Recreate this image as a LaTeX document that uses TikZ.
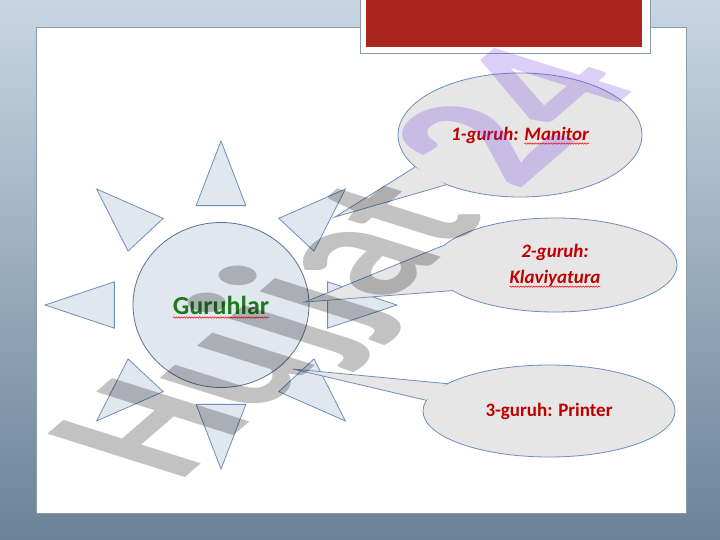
\documentclass[tikz,border=0pt]{standalone}
\usepackage{fontspec}
\setmainfont{Carlito}
\usepackage{tikz}
\usetikzlibrary{positioning, shapes.geometric, decorations.pathmorphing}
\definecolor{slidetop}{HTML}{C8D6E3}
\definecolor{slidebot}{HTML}{6B8298}
\definecolor{panelline}{HTML}{8B9BAB}
\definecolor{titlered}{HTML}{A8261D}
\definecolor{bubblefill}{HTML}{E6E6E6}
\definecolor{bubbleline}{HTML}{6F8FB8}
\definecolor{rayfill}{HTML}{DCE3EC}
\definecolor{grouptext}{HTML}{C00000}
\definecolor{suntext}{HTML}{1E7A1E}
\definecolor{markpurple}{RGB}{105,55,225}
\tikzstyle{ray} = [draw=bubbleline, fill=rayfill, fill opacity=0.85, line width=0.8pt, line join=miter]
\tikzstyle{sunball} = [ellipse, draw=bubbleline!80!black, fill=rayfill, fill opacity=0.85, text opacity=1,
minimum width=176pt, minimum height=165pt, line width=0.8pt, inner sep=0pt,
font=\fontsize{26}{30}\selectfont\bfseries, text=suntext]
\tikzstyle{bubble} = [ellipse, draw=bubbleline, fill=bubblefill, line width=0.8pt, inner sep=0pt,
align=center, font=\fontsize{19}{26}\selectfont\bfseries\itshape, text=grouptext]
\tikzstyle{tail} = [draw=bubbleline, fill=bubblefill, line width=0.8pt]
\tikzstyle{watermark} = [font=\fontsize{100}{100}\selectfont\bfseries, text=black, text opacity=0.24, inner sep=0pt]
\tikzstyle{word} = [shape=rectangle, minimum width=0pt, minimum height=0pt, draw=none, fill=none,
inner sep=0pt, outer sep=0pt, text opacity=1]
\tikzstyle{squiggle} = [draw=red, line width=0.5pt, overlay, decorate, decoration={snake, amplitude=0.7pt, segment length=2.6pt}]
\newcommand{\spellerr}[1]{\tikz[baseline=(w.base), x=1cm, y=1cm]{\node (w) [word] {#1};
\draw [squiggle] ([yshift=-3.5pt]w.base west) -- ([yshift=-3.5pt]w.base east);}}

\begin{document}
\begin{tikzpicture}[x=1pt, y=-1pt]
    \useasboundingbox (0,0) rectangle (720,540);
    % slide
    \shade [top color=slidetop, bottom color=slidebot] (0,0) rectangle (720,540);
    \draw [draw=panelline, fill=white] (36,27) rectangle (686,513);
    \draw [draw=panelline, fill=white] (360,-2) rectangle (650,53);
    \fill [titlered] (366,-2) rectangle (642,47);

    % sun
    \begin{scope}[shift={(221,305)}, xscale=1.035, yscale=0.965]
    \foreach \a in {0,45,...,315}
        \draw [ray, rotate=\a] (103,-24) -- (170,0) -- (103,24) -- cycle;
    \end{scope}
    \node (sun) [sunball] at (221,305) {\spellerr{Guruhlar}};

    % groups
    \coordinate (tip1) at (335,217);
    \coordinate (tip2) at (305,302);
    \coordinate (tip3) at (293,369);
    \node (g1) [bubble, minimum width=244pt, minimum height=124pt] at (520,135) {1-guruh: \spellerr{Manitor}};
    \node (g2) [bubble, minimum width=244pt, minimum height=94pt] at (555,265) {2-guruh:\\ \spellerr{Klaviyatura}};
    \node (g3) [bubble, minimum width=252pt, minimum height=92pt, font=\fontsize{19}{26}\selectfont\bfseries] at (549,411) {3-guruh: Printer};
    \draw [tail] (g1.197) -- (tip1) -- (g1.214);
    \draw [tail] (g2.170) -- (tip2) -- (g2.194);
    \draw [tail] (g3.165) -- (tip3) -- (g3.175);

    \node (mark) [watermark, shift={(178,484)}, cm={1.24,1.07,-2.12,0.67,(0,0)}, transform shape, anchor=base west] at (0,0) {Hujjat \textcolor{markpurple}{24}};
\end{tikzpicture}
\end{document}
